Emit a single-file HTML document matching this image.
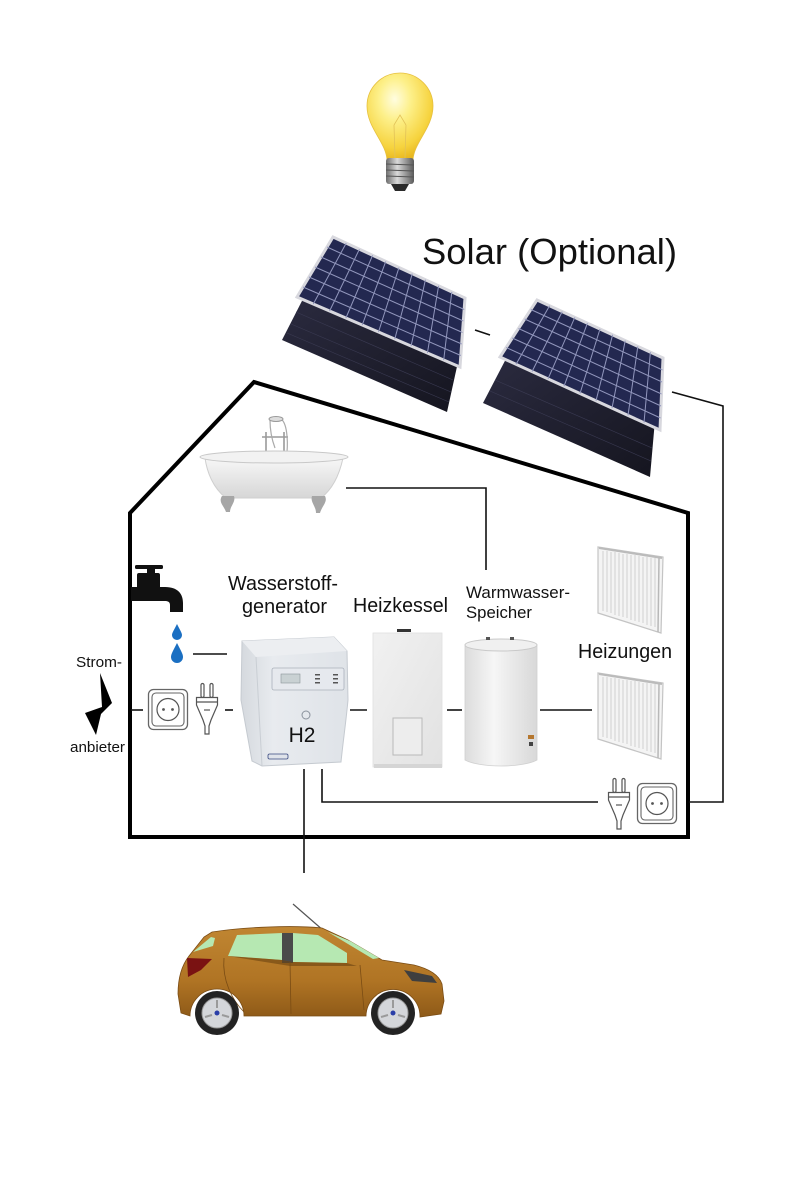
<!DOCTYPE html>
<html>
<head>
<meta charset="utf-8">
<style>
html,body{margin:0;padding:0;background:#fff;}
svg{display:block;}
text{font-family:"Liberation Sans",Arial,sans-serif;fill:#111;}
</style>
</head>
<body>
<svg width="800" height="1200" viewBox="0 0 800 1200" xmlns="http://www.w3.org/2000/svg">
<defs>
  <radialGradient id="bulbG" cx="0.42" cy="0.3" r="0.7">
    <stop offset="0" stop-color="#fffde0"/>
    <stop offset="0.35" stop-color="#fdf08a"/>
    <stop offset="0.8" stop-color="#f6d33e"/>
    <stop offset="1" stop-color="#e9b820"/>
  </radialGradient>
  <linearGradient id="baseG" x1="0" x2="1">
    <stop offset="0" stop-color="#6d6d6d"/>
    <stop offset="0.4" stop-color="#d9d9d9"/>
    <stop offset="1" stop-color="#5a5a5a"/>
  </linearGradient>
  <linearGradient id="tubG" x1="0" y1="0" x2="0" y2="1">
    <stop offset="0" stop-color="#f7f7f7"/>
    <stop offset="1" stop-color="#d6d6d6"/>
  </linearGradient>
  <linearGradient id="devG" x1="0" y1="0" x2="1" y2="0">
    <stop offset="0" stop-color="#d5d9de"/>
    <stop offset="0.3" stop-color="#e8ebef"/>
    <stop offset="1" stop-color="#dfe3e8"/>
  </linearGradient>
  <linearGradient id="boilG" x1="0" y1="0" x2="1" y2="1">
    <stop offset="0" stop-color="#f1f1f1"/>
    <stop offset="1" stop-color="#e2e2e2"/>
  </linearGradient>
  <linearGradient id="tankG" x1="0" x2="1">
    <stop offset="0" stop-color="#dcdcdc"/>
    <stop offset="0.4" stop-color="#f6f6f6"/>
    <stop offset="1" stop-color="#d8d8d8"/>
  </linearGradient>
  <linearGradient id="darkP" x1="0" y1="0" x2="1" y2="1">
    <stop offset="0" stop-color="#2b2b40"/>
    <stop offset="1" stop-color="#15151f"/>
  </linearGradient>
  <linearGradient id="carG" x1="0" y1="0" x2="0" y2="1">
    <stop offset="0" stop-color="#c08632"/>
    <stop offset="0.6" stop-color="#b07424"/>
    <stop offset="1" stop-color="#8e5a18"/>
  </linearGradient>

  <g id="socket">
    <rect x="0.5" y="0.5" width="39" height="40" rx="5" fill="#fff" stroke="#666" stroke-width="1.3"/>
    <rect x="4" y="4" width="32" height="33" rx="4" fill="#fff" stroke="#666" stroke-width="1.1"/>
    <circle cx="20" cy="20.5" r="11" fill="#fff" stroke="#555" stroke-width="1.2"/>
    <circle cx="15.5" cy="20.5" r="1.4" fill="#555"/>
    <circle cx="24.5" cy="20.5" r="1.4" fill="#555"/>
  </g>
  <g id="plug" fill="#fff" stroke="#555" stroke-width="1.2">
    <rect x="6" y="0.5" width="3" height="14" rx="1.5"/>
    <rect x="15" y="0.5" width="3" height="14" rx="1.5"/>
    <path d="M1.5,14.5 L22.5,14.5 L22.5,22 L16,37 L14,43 L14,51 L10,51 L10,43 L8,37 L1.5,22 Z"/>
    <line x1="1.5" y1="19" x2="22.5" y2="19"/>
    <line x1="9" y1="27" x2="15" y2="27"/>
  </g>
  <g id="rad">
    <path d="M598,547 L663,557 L661,633 L598,613 Z" fill="#f4f4f4" stroke="#c4c4c4" stroke-width="1.2"/>
    <g stroke="#cfcfcf" stroke-width="1">
      <line x1="603" y1="551" x2="603" y2="611"/>
      <line x1="607" y1="551" x2="607" y2="612"/>
      <line x1="611" y1="552" x2="611" y2="613"/>
      <line x1="615" y1="552" x2="615" y2="615"/>
      <line x1="619" y1="553" x2="619" y2="616"/>
      <line x1="623" y1="554" x2="623" y2="617"/>
      <line x1="627" y1="554" x2="627" y2="618"/>
      <line x1="631" y1="555" x2="631" y2="620"/>
      <line x1="635" y1="555" x2="635" y2="621"/>
      <line x1="639" y1="556" x2="639" y2="622"/>
      <line x1="643" y1="557" x2="643" y2="623"/>
      <line x1="647" y1="557" x2="647" y2="625"/>
      <line x1="651" y1="558" x2="651" y2="626"/>
      <line x1="655" y1="558" x2="655" y2="627"/>
    </g>
    <line x1="659" y1="558" x2="658" y2="632" stroke="#b8b8b8" stroke-width="1.5"/>
    <line x1="599" y1="548" x2="662" y2="558" stroke="#bbb" stroke-width="2"/>
  </g>
</defs>

<!-- Bulb -->
<path d="M387,160 C386,142 367,128 367,106 A33,33 0 1 1 433,106 C433,128 414,142 413,160 Z" fill="url(#bulbG)" stroke="#e6c040" stroke-width="0.8"/>
<path d="M395,158 L394,125 M405,158 L406,125 M394,125 L400,115 L406,125" stroke="#e2c258" stroke-width="0.8" fill="none"/>
<rect x="386" y="158" width="28" height="26" rx="3" fill="url(#baseG)"/>
<g stroke="#555" stroke-width="1">
  <line x1="386" y1="164" x2="414" y2="165"/>
  <line x1="386" y1="170" x2="414" y2="171"/>
  <line x1="386" y1="176" x2="414" y2="177"/>
</g>
<path d="M391,184 L409,184 L405,191 L395,191 Z" fill="#2a2a2a"/>

<!-- Solar text -->
<text x="422" y="264" font-size="36" textLength="255" lengthAdjust="spacingAndGlyphs">Solar (Optional)</text>

<!-- Solar panels left -->
<polygon points="305,295 458,362 447,412 282,340" fill="url(#darkP)"/>
<g stroke="#3a3a52" stroke-width="0.6">
  <line x1="296" y1="312" x2="453" y2="380"/>
  <line x1="291" y1="324" x2="451" y2="392"/>
  <line x1="287" y1="333" x2="449" y2="402"/>
</g>
<polygon points="333,237 465,298 460,367 297,297" fill="#232850" stroke="#d8d8de" stroke-width="3"/>
<g stroke="#9297bd" stroke-width="1">
  <line x1="327" y1="247" x2="464.2" y2="309.5"/>
  <line x1="321" y1="257" x2="463.3" y2="321"/>
  <line x1="315" y1="267" x2="462.5" y2="332.5"/>
  <line x1="309" y1="277" x2="461.7" y2="344"/>
  <line x1="303" y1="287" x2="460.8" y2="355.5"/>
  <line x1="346.2" y1="243.1" x2="313.3" y2="304"/>
  <line x1="359.4" y1="249.2" x2="329.6" y2="311"/>
  <line x1="372.6" y1="255.3" x2="345.9" y2="318"/>
  <line x1="385.8" y1="261.4" x2="362.2" y2="325"/>
  <line x1="399" y1="267.5" x2="378.5" y2="332"/>
  <line x1="412.2" y1="273.6" x2="394.8" y2="339"/>
  <line x1="425.4" y1="279.7" x2="411.1" y2="346"/>
  <line x1="438.6" y1="285.8" x2="427.4" y2="353"/>
  <line x1="451.8" y1="291.9" x2="443.7" y2="360"/>
</g>

<!-- Solar panels right -->
<polygon points="508,355 655,420 650,477 483,403" fill="url(#darkP)"/>
<g stroke="#3a3a52" stroke-width="0.6">
  <line x1="495" y1="380" x2="652" y2="448"/>
  <line x1="490" y1="391" x2="651" y2="461"/>
</g>
<polygon points="537,300 663,358 660,430 500,357" fill="#232850" stroke="#d8d8de" stroke-width="3"/>
<g stroke="#9297bd" stroke-width="1">
  <line x1="530.8" y1="309.5" x2="662.5" y2="370"/>
  <line x1="524.7" y1="319" x2="662" y2="382"/>
  <line x1="518.5" y1="328.5" x2="661.5" y2="394"/>
  <line x1="512.3" y1="338" x2="661" y2="406"/>
  <line x1="506.2" y1="347.5" x2="660.5" y2="418"/>
  <line x1="549.6" y1="305.8" x2="516" y2="364.3"/>
  <line x1="562.2" y1="311.6" x2="532" y2="371.6"/>
  <line x1="574.8" y1="317.4" x2="548" y2="378.9"/>
  <line x1="587.4" y1="323.2" x2="564" y2="386.2"/>
  <line x1="600" y1="329" x2="580" y2="393.5"/>
  <line x1="612.6" y1="334.8" x2="596" y2="400.8"/>
  <line x1="625.2" y1="340.6" x2="612" y2="408.1"/>
  <line x1="637.8" y1="346.4" x2="628" y2="415.4"/>
  <line x1="650.4" y1="352.2" x2="644" y2="422.7"/>
</g>
<line x1="475" y1="330" x2="490" y2="335" stroke="#111" stroke-width="1.6"/>

<!-- House outline -->
<path d="M130,513 L254,382 L688,513 L688,837 L130,837 Z" fill="none" stroke="#000" stroke-width="4" stroke-linejoin="miter"/>

<!-- wires -->
<g stroke="#111" stroke-width="1.6" fill="none">
  <polyline points="672,392 723,406 723,802 689,802"/>
  <polyline points="346,488 486,488 486,570"/>
  <line x1="193" y1="654" x2="227" y2="654"/>
  <line x1="131" y1="710" x2="143" y2="710"/>
  <line x1="225" y1="710" x2="233" y2="710"/>
  <line x1="350" y1="710" x2="367" y2="710"/>
  <line x1="447" y1="710" x2="462" y2="710"/>
  <line x1="540" y1="710" x2="592" y2="710"/>
  <polyline points="322,769 322,802 598,802"/>
  <line x1="304" y1="769" x2="304" y2="873"/>
</g>

<!-- Bathtub -->
<g>
  <path d="M266,452 L266,432 M284,452 L284,432 M262,437 L288,437" stroke="#9a9a9a" stroke-width="1.6" fill="none"/>
  <path d="M270,420 C270,432 272,440 275,448" stroke="#aaa" stroke-width="1.2" fill="none"/>
  <path d="M281,419 C287,423 288,440 287,452" stroke="#aaa" stroke-width="1.2" fill="none"/>
  <ellipse cx="276" cy="419" rx="7" ry="2.5" fill="#ddd" stroke="#999" stroke-width="1"/>
  <path d="M205,458 C207,472 213,488 226,498 L321,498 C334,488 340,472 343,458 Z" fill="url(#tubG)" stroke="#cfcfcf" stroke-width="1"/>
  <ellipse cx="274" cy="457" rx="74" ry="6" fill="#f2f2f2" stroke="#c8c8c8" stroke-width="1"/>
  <path d="M222,496 C218,502 224,506 226,512 L230,512 C230,506 236,502 234,496 Z" fill="#a6a6a6"/>
  <path d="M312,496 C310,502 316,506 316,513 L320,513 C322,506 328,502 325,496 Z" fill="#a6a6a6"/>
</g>

<!-- Tap -->
<g fill="#111">
  <rect x="135" y="565" width="28" height="4" rx="1.5"/>
  <rect x="147" y="566" width="8" height="9"/>
  <rect x="137" y="573" width="23" height="16" rx="2"/>
  <path d="M131,587 L165,587 C178,587 183,594 183,603 L183,612 L170,612 L170,605 C170,602 168,601 165,601 L131,601 Z"/>
</g>
<path d="M177,624 C174,630 172,633 172,635 A5,5 0 0 0 182,635 C182,633 180,630 177,624 Z" fill="#1b6fc2"/>
<path d="M177,643 C173,651 171,654 171,657 A6,6 0 0 0 183,657 C183,654 181,651 177,643 Z" fill="#1b6fc2"/>

<!-- Strom labels and lightning -->
<text x="76" y="667" font-size="15" textLength="46" lengthAdjust="spacingAndGlyphs">Strom-</text>
<text x="70" y="752" font-size="15" textLength="55" lengthAdjust="spacingAndGlyphs">anbieter</text>
<path d="M100,673 L112,703 L101,714 L96,735 L85,713 L102,707 Z" fill="#000"/>

<use href="#socket" x="148" y="689"/>
<use href="#plug" x="195" y="683"/>

<!-- H2 device -->
<g>
  <path d="M242,641 L334,637 L347,651 L348,700 C346,722 343,742 341,762 L262,766 L252,761 L241,700 Z" fill="url(#devG)" stroke="#c5cad0" stroke-width="1"/>
  <path d="M242,641 L334,637 L347,651 L256,657 Z" fill="#eceef1"/>
  <path d="M256,657 L262,766" stroke="#c9ced4" stroke-width="1"/>
  <rect x="272" y="668" width="72" height="22" rx="2" fill="#e6e9ee" stroke="#aab1bb" stroke-width="0.8"/>
  <rect x="281" y="674" width="19" height="9" fill="#c9d1d3" stroke="#8c9499" stroke-width="0.6"/>
  <g fill="#555">
    <rect x="315" y="674" width="5" height="1.5"/><rect x="315" y="678" width="5" height="1.5"/><rect x="315" y="682" width="5" height="1.5"/>
    <rect x="333" y="674" width="5" height="1.5"/><rect x="333" y="678" width="5" height="1.5"/><rect x="333" y="682" width="5" height="1.5"/>
  </g>
  <circle cx="306" cy="715" r="4" fill="none" stroke="#8a929c" stroke-width="1"/>
  <text x="302" y="742" font-size="21" text-anchor="middle">H2</text>
  <rect x="268" y="754" width="20" height="5" rx="1.5" fill="#dfe3ea" stroke="#3a4a80" stroke-width="0.8"/>
</g>

<!-- Heizkessel -->
<rect x="373" y="633" width="69" height="134" fill="url(#boilG)" stroke="#e0e0e0" stroke-width="0.8"/>
<rect x="397" y="629" width="14" height="3" fill="#333"/>
<rect x="393" y="718" width="29" height="37" fill="#ededed" stroke="#b9b9b9" stroke-width="1"/>
<rect x="374" y="764" width="68" height="4" fill="#d5d5d5"/>

<!-- Tank -->
<path d="M465,646 L465,760 C480,768 522,768 537,760 L537,646 Z" fill="url(#tankG)" stroke="#d0d0d0" stroke-width="0.8"/>
<ellipse cx="501" cy="645" rx="36" ry="6" fill="#f0f0f0" stroke="#c9c9c9" stroke-width="1"/>
<rect x="486" y="637" width="4" height="3" fill="#555"/>
<rect x="510" y="637" width="4" height="3" fill="#555"/>
<rect x="528" y="735" width="6" height="4" fill="#b5772f"/>
<rect x="529" y="742" width="4" height="4" fill="#444"/>

<!-- Labels -->
<text x="228" y="590" font-size="20" textLength="110" lengthAdjust="spacingAndGlyphs">Wasserstoff-</text>
<text x="242" y="613" font-size="20" textLength="85" lengthAdjust="spacingAndGlyphs">generator</text>
<text x="353" y="612" font-size="20" textLength="95" lengthAdjust="spacingAndGlyphs">Heizkessel</text>
<text x="466" y="598" font-size="17" textLength="104" lengthAdjust="spacingAndGlyphs">Warmwasser-</text>
<text x="466" y="618" font-size="17" textLength="66" lengthAdjust="spacingAndGlyphs">Speicher</text>
<text x="578" y="658" font-size="20" textLength="94" lengthAdjust="spacingAndGlyphs">Heizungen</text>

<!-- Radiators -->
<use href="#rad"/>
<use href="#rad" y="126"/>

<!-- Bottom right plug + socket -->
<use href="#plug" x="607" y="778"/>
<use href="#socket" x="637" y="783"/>

<!-- Car -->
<g>
  <line x1="293" y1="904" x2="324" y2="931" stroke="#555" stroke-width="1.2"/>
  <path d="M181,1013 L178,994 C178,978 182,965 189,956 L204,937 L212,932 C245,927 292,925 322,928 L348,940 L382,960 L414,965 C430,969 439,975 442,984 L444,1001 L441,1014 L420,1017 A27,27 0 0 0 366,1016 L244,1016 A27,27 0 0 0 190,1016 Z" fill="url(#carG)" stroke="#7a4c14" stroke-width="0.8"/>
  <path d="M193,952 L211,937 L215,938 L213,946 Z" fill="#b6e8b2"/>
  <path d="M237,935 L282,933 L282,960 L228,956 Z" fill="#b6e8b2"/>
  <path d="M293,933 L318,935 L347,953 L347,963 L293,962 Z" fill="#b6e8b2"/>
  <path d="M328,932 L350,941 L379,958 L373,959 Z" fill="#b6e8b2"/>
  <rect x="282" y="933" width="11" height="30" fill="#4a4a4a"/>
  <path d="M228,956 L282,960 L293,962 L347,963 L357,966 L290,966 Z" fill="#6b4210" opacity="0.6"/>
  <path d="M187,958 L212,959 L201,970 L188,977 Z" fill="#7a1212"/>
  <path d="M404,970 L432,976 L437,983 L412,981 Z" fill="#3f3f3f"/>
  <g stroke="#7a4c14" stroke-width="0.8" fill="none">
    <path d="M290,962 L291,1014"/>
    <path d="M360,965 L364,1010"/>
    <path d="M224,958 C222,980 232,1000 244,1012"/>
  </g>
  <circle cx="217" cy="1013" r="22" fill="#232323"/>
  <circle cx="217" cy="1013" r="15" fill="#d4d6da" stroke="#999" stroke-width="1"/>
  <circle cx="217" cy="1013" r="2.5" fill="#2a3ea8"/>
  <circle cx="393" cy="1013" r="22" fill="#232323"/>
  <circle cx="393" cy="1013" r="15" fill="#d4d6da" stroke="#999" stroke-width="1"/>
  <circle cx="393" cy="1013" r="2.5" fill="#2a3ea8"/>
  <g stroke="#9a9a9a" stroke-width="2">
    <line x1="217" y1="1000" x2="217" y2="1008"/><line x1="205" y1="1017" x2="212" y2="1015"/><line x1="229" y1="1017" x2="222" y2="1015"/>
    <line x1="393" y1="1000" x2="393" y2="1008"/><line x1="381" y1="1017" x2="388" y2="1015"/><line x1="405" y1="1017" x2="398" y2="1015"/>
  </g>
</g>
</svg>
</body>
</html>
